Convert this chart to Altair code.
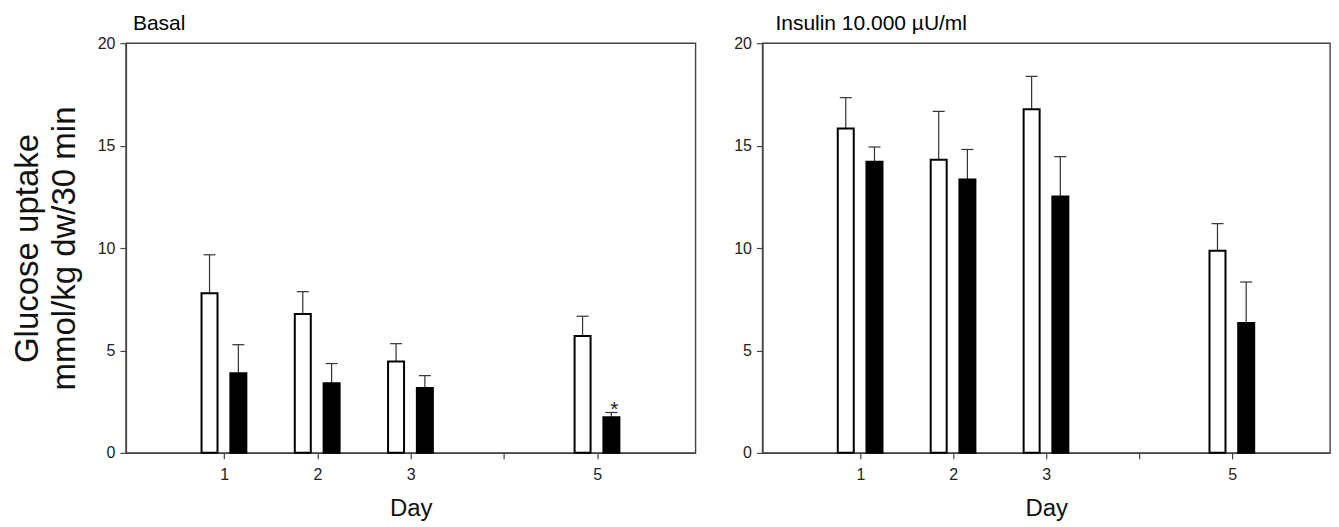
import altair as alt
import pandas as pd

# ---- data ----
days = [1, 2, 3, 5]
x_tick_values = [1, 2, 3, 4, 5]
x_tick_labels = ["1", "2", "3", "", "5"]
y_tick_values = [0, 5, 10, 15, 20]

basal_white = [7.79, 6.78, 4.46, 5.70]
basal_white_sem = [1.88, 1.09, 0.87, 0.97]
basal_black = [3.89, 3.40, 3.17, 1.74]
basal_black_sem = [1.39, 0.96, 0.60, 0.23]
basal_black_marks = ["", "", "", "*"]

insulin_white = [15.84, 14.31, 16.77, 9.87]
insulin_white_sem = [1.50, 2.36, 1.61, 1.32]
insulin_black = [14.21, 13.34, 12.52, 6.34]
insulin_black_sem = [0.72, 1.47, 1.94, 2.00]
insulin_black_marks = ["", "", "", ""]

FONT = "Liberation Sans, Arial, Helvetica, sans-serif"


def make_df(white, wsem, black, bsem, marks):
    rows = []
    for i, d in enumerate(days):
        rows.append({"day": d, "group": "white", "value": white[i], "sem": wsem[i], "mark": ""})
        rows.append({"day": d, "group": "black", "value": black[i], "sem": bsem[i], "mark": marks[i]})
    return pd.DataFrame(rows)


label_expr = "{" + ",".join(f"'{v}':'{l}'" for v, l in zip(x_tick_values, x_tick_labels)) + "}[datum.value]"


def panel(title_text, df, show_ytitle, title_dx, width):
    base = alt.Chart(df).transform_calculate(
        pos="datum.day + (datum.group == 'white' ? -0.157 : 0.152)",
        hi="datum.value + datum.sem",
    )
    xscale = alt.Scale(domain=[0, 6], nice=False, zero=False)
    yscale = alt.Scale(domain=[0, 20], nice=False)
    xaxis = alt.Axis(values=x_tick_values, labelExpr=label_expr, title="Day",
                     titleFontSize=24, titlePadding=14, labelPadding=8, grid=False)
    if show_ytitle:
        yaxis = alt.Axis(values=y_tick_values, title=["Glucose uptake", "mmol/kg dw/30 min"],
                         titleFontSize=33, titleLineHeight=37, titlePadding=16, grid=False)
    else:
        yaxis = alt.Axis(values=y_tick_values, title=None, grid=False)

    x = alt.X("pos:Q", scale=xscale, axis=xaxis)
    err = base.mark_rule(color="#333333", strokeWidth=1.2).encode(
        x=x, y=alt.Y("value:Q", scale=yscale, axis=yaxis), y2="hi:Q")
    cap = base.mark_rule(color="#333333", strokeWidth=1.2, xOffset=-6, x2Offset=6).encode(
        x="pos:Q", x2="pos:Q", y="hi:Q")
    bars = base.mark_bar(orient="vertical", size=16, stroke="black", strokeWidth=2).encode(
        x="pos:Q", y="value:Q",
        fill=alt.Fill("group:N", scale=alt.Scale(domain=["white", "black"], range=["white", "black"]), legend=None))
    stars = base.transform_filter("datum.mark != ''").mark_text(
        fontSize=21, dy=3, dx=3, baseline="alphabetic", font=FONT, color="#222222").encode(
        x="pos:Q", y="hi:Q", text="mark:N")
    return alt.layer(err, cap, bars, stars).properties(
        width=width, height=410,
        title=alt.TitleParams(text=title_text, anchor="start", frame="group", fontSize=21,
                              fontWeight="normal", font=FONT, dx=title_dx, offset=1, color="black"),
    )


left = panel("Basal", make_df(basal_white, basal_white_sem, basal_black, basal_black_sem, basal_black_marks),
             True, 7, 570)
right = panel("Insulin 10.000 µU/ml",
              make_df(insulin_white, insulin_white_sem, insulin_black, insulin_black_sem, insulin_black_marks),
              False, 13, 568)

chart = alt.hconcat(left, right, spacing=36).properties(
    padding={"left": 2, "top": 4, "right": 0, "bottom": 0}
).configure_view(
    stroke="#444444", strokeWidth=1.4
).configure_axis(
    domainColor="#444444", domainWidth=1.4, tickColor="#444444", tickSize=6, tickWidth=1.2,
    labelFont=FONT, labelFontSize=16, labelColor="#222222", labelPadding=5,
    titleFont=FONT, titleFontWeight="normal", titleColor="#111111"
).configure_axisY(labelPadding=5)

chart.save("out.html", embed_options={"renderer": "svg", "actions": False})
